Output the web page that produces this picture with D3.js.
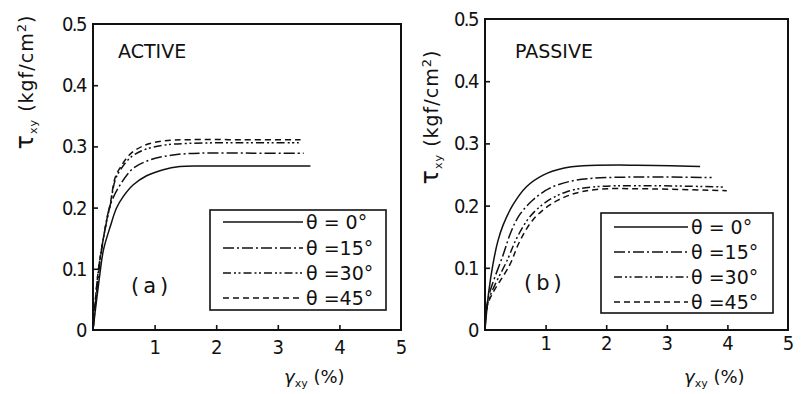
<!DOCTYPE html>
<html>
<head>
<meta charset="utf-8">
<script src="https://cdn.jsdelivr.net/npm/d3@7"></script>
<style>
  html, body { margin: 0; padding: 0; background: #fff; }
  svg { display: block; }
  .num { font-family: "DejaVu Sans Condensed", "Liberation Sans Narrow", sans-serif; font-size: 20px; fill: #111; }
  .lbl { font-family: "DejaVu Sans", sans-serif; fill: #111; }
</style>
</head>
<body>
<svg id="chart" width="802" height="394"></svg>
<script>
// Shear stress–strain curves, tau_xy (kgf/cm2) against gamma_xy (%)
const xTicks = [0, 1, 2, 3, 4, 5];
const xTickLabels = ["", "1", "2", "3", "4", "5"];
const yTicks = [0, 0.1, 0.2, 0.3, 0.4, 0.5];
const yTickLabels = ["0", "0.1", "0.2", "0.3", "0.4", "0.5"];

const seriesNames = ["θ = 0°", "θ =15°", "θ =30°", "θ =45°"];

// ACTIVE, panel (a)
const activeTheta0  = [[0,0],[0.11,0.09],[0.17,0.131],[0.28,0.169],[0.38,0.199],[0.49,0.218],[0.65,0.237],[0.87,0.252],[1.14,0.262],[1.41,0.267],[1.74,0.268],[2.6,0.268],[3.53,0.268]];
const activeTheta15 = [[0,0],[0.10,0.10],[0.17,0.15],[0.28,0.204],[0.44,0.237],[0.65,0.264],[0.93,0.278],[1.30,0.286],[1.74,0.289],[2.6,0.289],[3.42,0.289]];
const activeTheta30 = [[0,0],[0.09,0.10],[0.22,0.177],[0.28,0.204],[0.36,0.245],[0.44,0.261],[0.60,0.281],[0.82,0.294],[1.14,0.302],[1.57,0.305],[2.4,0.306],[3.34,0.306]];
const activeTheta45 = [[0,0],[0.09,0.10],[0.22,0.178],[0.28,0.206],[0.36,0.249],[0.44,0.265],[0.60,0.287],[0.82,0.301],[1.14,0.309],[1.57,0.311],[2.4,0.311],[3.37,0.311]];

// PASSIVE, panel (b)
const passiveTheta0  = [[0,0],[0.06,0.06],[0.13,0.105],[0.21,0.142],[0.30,0.169],[0.46,0.201],[0.68,0.230],[0.96,0.249],[1.29,0.260],[1.62,0.264],[2.5,0.265],[3.55,0.263]];
const passiveTheta15 = [[0,0],[0.05,0.05],[0.30,0.121],[0.43,0.158],[0.57,0.185],[0.79,0.209],[1.07,0.228],[1.45,0.240],[1.78,0.244],[2.6,0.246],[3.74,0.245]];
const passiveTheta30 = [[0,0],[0.05,0.045],[0.38,0.115],[0.52,0.147],[0.74,0.182],[1.01,0.206],[1.34,0.222],[1.78,0.230],[2.6,0.232],[3.93,0.230]];
const passiveTheta45 = [[0,0],[0.05,0.043],[0.41,0.105],[0.57,0.142],[0.79,0.177],[1.07,0.201],[1.40,0.217],[1.84,0.226],[2.6,0.227],[3.99,0.224]];

const dashStyles = [null, "11,3,2,3", "8,3,2,2.5,2,3", "6,4"];

const svg = d3.select("#chart");

function drawPanel(cfg) {
  const x = d3.scaleLinear().domain([0, 5]).range([cfg.left, cfg.right]);
  const y = d3.scaleLinear().domain([0, 0.5]).range([cfg.bottom, cfg.top]);
  const g = svg.append("g");

  // frame
  g.append("rect")
    .attr("x", x(0)).attr("y", y(0.5))
    .attr("width", x(5) - x(0)).attr("height", y(0) - y(0.5))
    .attr("fill", "none").attr("stroke", "#111").attr("stroke-width", 2);

  // x axis, ticks pointing inward
  const xa = g.append("g").attr("transform", `translate(0,${y(0)})`)
    .call(d3.axisBottom(x).tickValues(xTicks).tickSize(-5).tickPadding(cfg.xPad)
      .tickFormat((d, i) => xTickLabels[i]));
  xa.select(".domain").remove();
  xa.selectAll("line").attr("stroke", "#111").attr("stroke-width", 1.6)
    .filter(d => d === 0 || d === 5).remove();
  xa.selectAll("text").attr("class", "num").attr("font-size", null).attr("font-family", null);

  // y axis, ticks pointing inward
  const ya = g.append("g").attr("transform", `translate(${x(0)},0)`)
    .call(d3.axisLeft(y).tickValues(yTicks).tickSize(-5).tickPadding(7)
      .tickFormat((d, i) => yTickLabels[i]));
  ya.select(".domain").remove();
  ya.selectAll("line").attr("stroke", "#111").attr("stroke-width", 1.6)
    .filter(d => d === 0 || d === 0.5).remove();
  ya.selectAll("text").attr("class", "num").attr("font-size", null).attr("font-family", null)
    .attr("letter-spacing", -1.5);

  // curves
  const line = d3.line().x(d => x(d[0])).y(d => y(d[1])).curve(d3.curveCatmullRom.alpha(0.5));
  cfg.series.forEach((s, i) => {
    g.append("path").datum(s)
      .attr("d", line)
      .attr("fill", "none").attr("stroke", "#111").attr("stroke-width", 1.5)
      .attr("stroke-dasharray", dashStyles[i]);
  });

  // panel title and tag
  g.append("text").attr("class", "lbl").attr("font-size", 19)
    .attr("x", cfg.titleX).attr("y", cfg.titleY).text(cfg.title);
  g.append("text").attr("class", "lbl").attr("font-size", 21).attr("letter-spacing", 4)
    .attr("x", cfg.tagX).attr("y", cfg.tagY).text(cfg.tag);

  // legend
  const lg = cfg.legend;
  g.append("rect").attr("x", lg.x0).attr("y", lg.y0)
    .attr("width", lg.x1 - lg.x0).attr("height", lg.y1 - lg.y0)
    .attr("fill", "#fff").attr("stroke", "#111").attr("stroke-width", 1.6);
  seriesNames.forEach((name, i) => {
    const yy = lg.rows[i];
    g.append("line").attr("x1", lg.lx0).attr("x2", lg.lx1).attr("y1", yy).attr("y2", yy)
      .attr("stroke", "#111").attr("stroke-width", 1.5)
      .attr("stroke-dasharray", dashStyles[i]);
    g.append("text").attr("class", "lbl").attr("font-size", 19)
      .attr("x", lg.lx1 + 3).attr("y", yy + 7).text(name);
  });

  // axis titles
  const yt = g.append("text").attr("class", "lbl").attr("font-size", 19)
    .attr("text-anchor", "middle").attr("letter-spacing", 1)
    .attr("transform", `translate(${cfg.yTitleX},${cfg.yTitleY}) rotate(-90)`);
  yt.append("tspan").attr("font-size", 24).text("τ");
  yt.append("tspan").attr("font-size", 11).attr("dy", 4).text("xy");
  yt.append("tspan").attr("dy", -4).text(" (kgf/cm");
  yt.append("tspan").attr("font-size", 13).attr("dy", -7).text("2");
  yt.append("tspan").attr("dy", 7).text(")");

  const xt = g.append("text").attr("class", "lbl").attr("font-size", 18)
    .attr("x", cfg.xTitleX).attr("y", cfg.xTitleY);
  xt.append("tspan").attr("font-style", "italic").text("γ");
  xt.append("tspan").attr("font-size", 11).attr("dy", 4).text("xy");
  xt.append("tspan").attr("dy", -4).text("  (%)");
}

drawPanel({
  left: 93, right: 401, top: 24, bottom: 330, xPad: 10,
  series: [activeTheta0, activeTheta15, activeTheta30, activeTheta45],
  title: "ACTIVE", titleX: 118, titleY: 58,
  tag: "(a)", tagX: 131, tagY: 293,
  legend: { x0: 210, x1: 386, y0: 210, y1: 310, lx0: 223, lx1: 303, rows: [222, 248, 273, 298] },
  yTitleX: 33, yTitleY: 82,
  xTitleX: 284, xTitleY: 383
});

drawPanel({
  left: 485, right: 788, top: 19, bottom: 330, xPad: 6,
  series: [passiveTheta0, passiveTheta15, passiveTheta30, passiveTheta45],
  title: "PASSIVE", titleX: 515, titleY: 58,
  tag: "(b)", tagX: 524, tagY: 290,
  legend: { x0: 601, x1: 773, y0: 213, y1: 313, lx0: 614, lx1: 688, rows: [227, 252, 277, 302] },
  yTitleX: 438, yTitleY: 117,
  xTitleX: 684, xTitleY: 383
});
</script>
</body>
</html>
